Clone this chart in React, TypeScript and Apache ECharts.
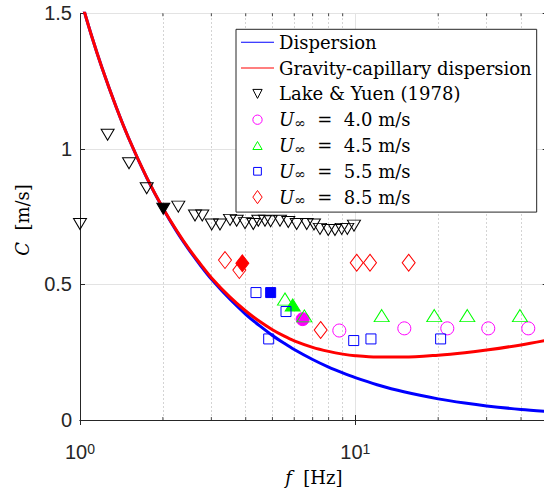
import React, { useEffect, useRef } from "react";
import * as echarts from "echarts";

// Theory curves
const curveF = [1, 1.1, 1.2, 1.35, 1.5, 1.75, 2, 2.25, 2.5, 2.75, 3, 3.5, 4, 4.5, 5, 5.5, 6, 7, 8, 9, 10, 12, 15, 20, 25, 30, 40, 50];
const dispersionC = [1.561, 1.419, 1.301, 1.157, 1.041, 0.892, 0.781, 0.694, 0.625, 0.568, 0.52, 0.446, 0.39, 0.347, 0.312, 0.284, 0.26, 0.223, 0.195, 0.1735, 0.156, 0.13, 0.104, 0.078, 0.0625, 0.052, 0.039, 0.031];
const gravCapC = [1.561, 1.419, 1.301, 1.157, 1.041, 0.893, 0.782, 0.697, 0.628, 0.573, 0.525, 0.454, 0.402, 0.363, 0.333, 0.31, 0.292, 0.268, 0.253, 0.243, 0.237, 0.232, 0.232, 0.239, 0.248, 0.258, 0.277, 0.295];

// Lake & Yuen (1978)
const lakeF = [1.0, 1.26, 1.507, 1.747, 2.007, 2.275, 2.617, 2.781, 3.009, 3.225, 3.507, 3.708, 3.975, 4.261, 4.444, 4.699, 4.927, 5.327, 5.709, 6.125, 6.662, 7.079, 7.442, 7.977, 8.438, 8.925, 9.353, 9.89];
const lakeC = [0.723, 1.052, 0.947, 0.855, 0.779, 0.787, 0.754, 0.754, 0.721, 0.721, 0.738, 0.735, 0.726, 0.723, 0.735, 0.735, 0.733, 0.735, 0.73, 0.723, 0.723, 0.721, 0.705, 0.701, 0.701, 0.705, 0.705, 0.717];
const lakeFilled = 4;

// U = 4.0 m/s
const u40F = [6.44, 8.75, 15.07, 21.59, 30.41, 42.5];
const u40C = [0.372, 0.33, 0.338, 0.338, 0.338, 0.338];
const u40Filled = 0;

// U = 4.5 m/s
const u45F = [5.555, 5.925, 6.53, 12.47, 19.36, 25.52, 39.64];
const u45C = [0.446, 0.424, 0.384, 0.385, 0.385, 0.385, 0.385];
const u45Filled = 1;

// U = 5.5 m/s
const u55F = [4.358, 4.927, 5.602, 4.847, 9.87, 11.4, 20.42];
const u55C = [0.47, 0.47, 0.4, 0.299, 0.293, 0.299, 0.299];
const u55Filled = 1;

// U = 8.5 m/s
const u85F = [3.363, 3.791, 3.888, 7.485, 10.12, 11.31, 15.63];
const u85C = [0.59, 0.553, 0.578, 0.332, 0.58, 0.58, 0.58];
const u85Filled = 2;

const minorGridF = [2, 3, 4, 5, 6, 7, 8, 9, 20, 30, 40];
const xMin = 1;
const xMax = 50;
const yMin = 0;
const yMax = 1.5;
const yInterval = 0.5;

const names = [
  "Dispersion",
  "Gravity-capillary dispersion",
  "Lake & Yuen (1978)",
  "U∞ = 4.0 m/s",
  "U∞ = 4.5 m/s",
  "U∞ = 5.5 m/s",
  "U∞ = 8.5 m/s",
];
const colors = ["#0000ff", "#ff0000", "#000000", "#ff00ff", "#00ff00", "#0000ff", "#ff0000"];

// legend icons (14px tall boxes with invisible pad points so sizes stay true)
const PAD = "M4.65,0L4.65,0M4.65,14L4.65,14";
const legendIcons = [
  "path://M0,0H33V1H0Z",
  "path://M0,0H33V1H0Z",
  "path://" + PAD + "M0,2.5L9.3,2.5L4.65,11.5Z",
  "path://" + PAD + "M0,7A4.65,4.65,0,1,1,9.3,7A4.65,4.65,0,1,1,0,7Z",
  "path://" + PAD + "M0,11L9.3,11L4.65,3Z",
  "path://" + PAD + "M0.8,3.15H8.5V10.85H0.8Z",
  "path://" + PAD + "M4.65,0.4L9.3,7L4.65,13.6L0,7Z",
];

const AXIS = "#262626";
const SANS = "Liberation Sans, Arial, Helvetica, sans-serif";
const SERIF = "DejaVu Serif, serif";

function zip(f: number[], c: number[]) {
  return f.map((x, i) => [x, c[i]]);
}
function pts(f: number[], c: number[], filled: number, color: string) {
  return f.map((x, i) =>
    i === filled
      ? { value: [x, c[i]], itemStyle: { color, borderColor: color, opacity: 1 } }
      : [x, c[i]]
  );
}

function scatter(name: string, f: number[], c: number[], filled: number, color: string, symbol: string, size: any, rotate = 0) {
  return {
    name,
    type: "scatter",
    data: pts(f, c, filled, color),
    symbol,
    symbolSize: size,
    symbolRotate: rotate,
    itemStyle: { color: "rgba(255,255,255,0)", borderColor: color, borderWidth: 1, opacity: 1 },
    emphasis: { disabled: true },
    z: 3,
  };
}

export default function App() {
  const ref = useRef<HTMLDivElement>(null);
  useEffect(() => {
    if (!ref.current) return;
    const chart = echarts.init(ref.current, null, { renderer: "svg" });
    const option: any = {
      animation: false,
      backgroundColor: "#fff",
      grid: { left: 80, top: 13.3, bottom: 71, right: -3.7, containLabel: false, outerBoundsMode: "none" },
      graphic: [
        {
          type: "text",
          x: 22,
          y: 220,
          rotation: Math.PI / 2,
          silent: true,
          style: {
            text: "{i|C}  [m/s]",
            align: "center",
            verticalAlign: "middle",
            fontFamily: SERIF,
            fontSize: 18,
            fill: "#000",
            rich: {
              i: { fontStyle: "italic", fontFamily: SERIF, fontSize: 18, fill: "#000" },
            },
          },
        },
      ],
      xAxis: [
        {
          type: "log",
          logBase: 10,
          min: xMin,
          max: xMax,
          position: "bottom",
          axisLine: { show: true, lineStyle: { color: AXIS, width: 1 } },
          axisTick: { show: true, inside: true, length: 5, lineStyle: { color: AXIS } },
          splitLine: { show: true, lineStyle: { color: "#e3e3e3", width: 1 } },
          minorTick: { show: false },
          axisLabel: {
            showMaxLabel: false,
            margin: 22,
            formatter: (v: number) => `{b|10}{s|${Math.round(Math.log10(v))}}`,
            rich: {
              b: { fontFamily: SANS, fontSize: 20, color: AXIS, lineHeight: 20, verticalAlign: "bottom" },
              s: { fontFamily: SANS, fontSize: 14, color: AXIS, lineHeight: 14, verticalAlign: "top", padding: [0, 0, 12, 0] },
            },
          },
          name: "{i|f}  [Hz]",
          nameLocation: "middle",
          nameGap: 47,
          nameMoveOverlap: false,
          nameTextStyle: {
            fontFamily: SERIF,
            fontSize: 18,
            color: "#000",
            lineHeight: 20,
            rich: { i: { fontStyle: "italic", fontFamily: SERIF, fontSize: 18, color: "#000" } },
          },
        },
        {
          type: "log",
          logBase: 10,
          min: xMin,
          max: xMax,
          position: "top",
          axisLine: { show: true, lineStyle: { color: AXIS, width: 1 } },
          axisTick: { show: true, inside: true, length: 5, lineStyle: { color: AXIS } },
          splitLine: { show: false },
          axisLabel: { show: false },
        },
      ],
      yAxis: [
        {
          type: "value",
          min: yMin,
          max: yMax,
          interval: yInterval,
          position: "left",
          axisLine: { show: true, lineStyle: { color: AXIS, width: 1 } },
          axisTick: { show: true, inside: true, length: 5, lineStyle: { color: AXIS } },
          splitLine: { show: true, lineStyle: { color: "#e3e3e3", width: 1 } },
          axisLabel: { fontFamily: SANS, fontSize: 20, color: AXIS, margin: 8 },
        },
        {
          type: "value",
          min: yMin,
          max: yMax,
          interval: yInterval,
          position: "right",
          axisLine: { show: true, lineStyle: { color: AXIS, width: 1 } },
          axisTick: { show: true, inside: true, length: 5, lineStyle: { color: AXIS } },
          splitLine: { show: false },
          axisLabel: { show: false },
        },
      ],
      legend: {
        orient: "vertical",
        left: 236,
        top: 29.3,
        backgroundColor: "#fff",
        borderColor: AXIS,
        borderWidth: 1,
        padding: [3, 5, 5, 5],
        itemWidth: 33,
        itemHeight: 14,
        itemGap: 5.8,
        symbolKeepAspect: true,
        data: names.map((n, i) => ({
          name: n,
          icon: legendIcons[i],
          itemStyle:
            i < 2
              ? { color: colors[i], borderWidth: 0 }
              : { color: "rgba(255,255,255,0)", borderColor: colors[i], borderWidth: 1 },
        })),
        formatter: (name: string) => {
          if (name.startsWith("U∞")) {
            return `{i|U}{s|∞}{t|  =  ${name.slice(5)}}`;
          }
          return `{t|${name}}`;
        },
        textStyle: {
          fontFamily: SERIF,
          fontSize: 18,
          color: "#000",
          lineHeight: 20,
          rich: {
            t: { fontFamily: SERIF, fontSize: 18, color: "#000", lineHeight: 20 },
            i: { fontFamily: SERIF, fontStyle: "italic", fontSize: 18, color: "#000", lineHeight: 20 },
            s: { fontFamily: SERIF, fontSize: 14, color: "#000", lineHeight: 12, verticalAlign: "bottom" },
          },
        },
      },
      series: [
        {
          name: "minor-grid",
          type: "scatter",
          data: [],
          silent: true,
          z: 0,
          markLine: {
            silent: true,
            z: 0,
            symbol: "none",
            label: { show: false },
            lineStyle: { color: "#d4d4d4", type: [2, 2], width: 1 },
            emphasis: { disabled: true },
            data: minorGridF.map((v) => ({ xAxis: v })),
          },
        },
        {
          name: "minor-ticks-bottom",
          type: "scatter",
          data: minorGridF.map((v) => [v, yMin]),
          symbol: "rect",
          symbolSize: [1, 3],
          symbolOffset: [0, -1.5],
          itemStyle: { color: AXIS },
          silent: true,
          z: 1,
        },
        {
          name: "minor-ticks-top",
          type: "scatter",
          data: minorGridF.map((v) => [v, yMax]),
          symbol: "rect",
          symbolSize: [1, 3],
          symbolOffset: [0, 1.5],
          itemStyle: { color: AXIS },
          silent: true,
          z: 1,
        },
        {
          name: names[0],
          type: "line",
          data: zip(curveF, dispersionC),
          symbol: "none",
          smooth: 0.3,
          color: colors[0],
          lineStyle: { color: colors[0], width: 3 },
          emphasis: { disabled: true },
          z: 2,
        },
        {
          name: names[1],
          type: "line",
          data: zip(curveF, gravCapC),
          symbol: "none",
          smooth: 0.3,
          color: colors[1],
          lineStyle: { color: colors[1], width: 3 },
          emphasis: { disabled: true },
          z: 2,
        },
        scatter(names[2], lakeF, lakeC, lakeFilled, colors[2], "triangle", [13, 11], 180),
        scatter(names[3], u40F, u40C, u40Filled, colors[3], "circle", 13),
        scatter(names[4], u45F, u45C, u45Filled, colors[4], "triangle", [15, 12]),
        scatter(names[5], u55F, u55C, u55Filled, colors[5], "rect", 10),
        scatter(names[6], u85F, u85C, u85Filled, colors[6], "diamond", [13, 17]),
      ],
    };
    chart.setOption(option);
    return () => chart.dispose();
  }, []);
  return (
    <div
      ref={ref}
      style={{ position: "absolute", left: 0, top: 0, width: 544, height: 491, overflow: "hidden" }}
    />
  );
}
